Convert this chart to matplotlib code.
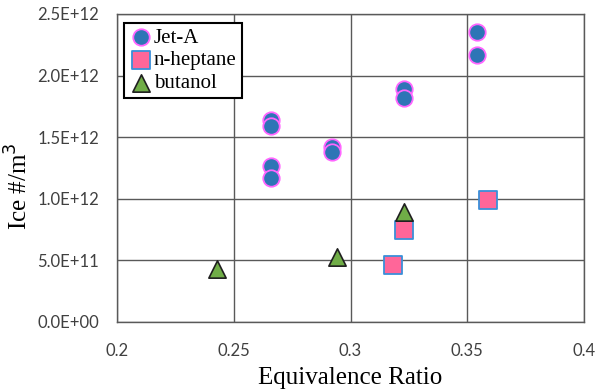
import matplotlib
matplotlib.use("Agg")
import matplotlib.pyplot as plt

# equivalence ratio vs ice number density
jet_a_phi = [0.266, 0.266, 0.266, 0.266, 0.292, 0.292, 0.323, 0.323, 0.354, 0.354]
jet_a_ice = [1.64e12, 1.59e12, 1.27e12, 1.17e12, 1.42e12, 1.38e12, 1.89e12, 1.82e12, 2.35e12, 2.17e12]

heptane_phi = [0.318, 0.323, 0.359]
heptane_ice = [0.46e12, 0.75e12, 0.99e12]

butanol_phi = [0.243, 0.294, 0.323]
butanol_ice = [0.43e12, 0.53e12, 0.89e12]

xticks = [0.2, 0.25, 0.3, 0.35, 0.4]
xtick_labels = ["0.2", "0.25", "0.3", "0.35", "0.4"]
yticks = [0, 0.5e12, 1.0e12, 1.5e12, 2.0e12, 2.5e12]
ytick_labels = ["0.0E+00", "5.0E+11", "1.0E+12", "1.5E+12", "2.0E+12", "2.5E+12"]

fig = plt.figure(figsize=(5.98, 3.92), dpi=100)
ax = fig.add_axes([0.1957, 0.1786, 0.781, 0.7857])

ax.scatter(jet_a_phi, jet_a_ice, s=140, marker="o", facecolor="#2E75B6",
           edgecolor="#FF66FF", linewidth=1.3, label="Jet-A", zorder=3)
ax.scatter(heptane_phi, heptane_ice, s=155, marker="s", facecolor="#FF6699",
           edgecolor="#3A8FD9", linewidth=1.3, label="n-heptane", zorder=3)
ax.scatter(butanol_phi, butanol_ice, s=155, marker="^", facecolor="#70AD47",
           edgecolor="#1F1F1F", linewidth=1.2, label="butanol", zorder=3)

ax.set_xlim(0.2, 0.4)
ax.set_ylim(0, 2.5e12)
ax.set_xticks(xticks)
ax.set_xticklabels(xtick_labels)
ax.set_yticks(yticks)
ax.set_yticklabels(ytick_labels)
ax.tick_params(length=0, labelsize=12, labelcolor="#404040")
ax.tick_params(axis="x", pad=15)
ax.tick_params(axis="y", pad=13)
for lbl in ax.get_xticklabels() + ax.get_yticklabels():
    lbl.set_family("Lato")

ax.grid(True, color="#595959", linewidth=1.0)
ax.set_axisbelow(True)
for sp in ax.spines.values():
    sp.set_color("#595959")
    sp.set_linewidth(1.0)

ax.set_xlabel("Equivalence Ratio", family="Liberation Serif", fontsize=18, labelpad=6)
ax.set_ylabel("Ice #/m$^3$", family="Liberation Serif", fontsize=18)
ax.yaxis.set_label_coords(-0.18, 0.44)

leg = ax.legend(loc="upper left", bbox_to_anchor=(0.005, 0.985),
                prop={"family": "Liberation Serif", "size": 15},
                handletextpad=0.0, borderpad=0.25, labelspacing=0.15,
                handlelength=1.2, fancybox=False, framealpha=1, borderaxespad=0.2)
leg.get_frame().set_edgecolor("black")
leg.get_frame().set_linewidth(1.5)

fig.savefig("out.png", dpi=100)
